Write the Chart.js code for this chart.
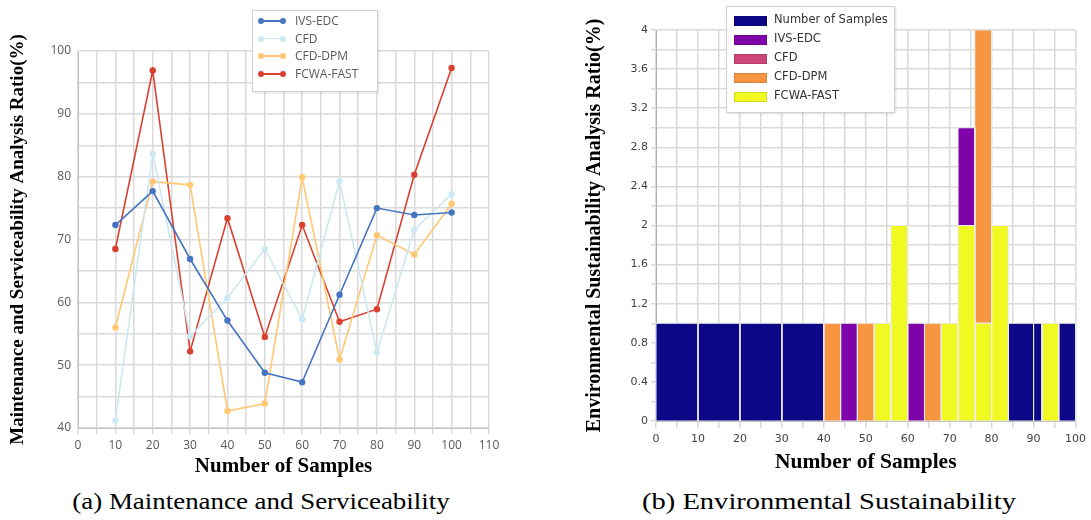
<!DOCTYPE html>
<html>
<head>
<meta charset="utf-8">
<script src="https://cdn.jsdelivr.net/npm/chart.js@4"></script>
<style>
  body { margin: 0; background: #fff; width: 1091px; height: 520px; position: relative; overflow: hidden; }
  .box { position: absolute; top: 0; height: 480px; }
  #leftBox { left: 0; width: 540px; }
  #rightBox { left: 545px; width: 546px; }
  .cap { position: absolute; top: 489px; width: 600px; margin-left: -300px; font: 23px "Liberation Serif", serif; color: #000;
         text-align: center; white-space: nowrap; transform: scaleX(1.17); }
  .legend { position: absolute; background: #fff; border: 1px solid #d0d0d0; box-shadow: 1px 1px 2px rgba(0,0,0,0.12); }
  .row { position: absolute; left: 0; right: 0; height: 18px; }
  .row span.txt { position: absolute; top: 0; line-height: 18px; white-space: nowrap; }
</style>
</head>
<body>
<div class="box" id="leftBox"><canvas id="leftChart"></canvas></div>
<div class="box" id="rightBox"><canvas id="rightChart"></canvas></div>
<div class="legend" id="leftLegend" style="left:252px;top:10px;width:124px;height:80px;"></div>
<div class="legend" id="rightLegend" style="left:726px;top:6px;width:167px;height:105px;"></div>
<div class="cap" style="left:261px;">(a) Maintenance and Serviceability</div>
<div class="cap" style="left:829px;transform:scaleX(1.24);">(b) Environmental Sustainability</div>
<script>
// (a) line chart values
const samples = [10, 20, 30, 40, 50, 60, 70, 80, 90, 100];
const methods = ['IVS-EDC', 'CFD', 'CFD-DPM', 'FCWA-FAST'];
const ivsEdc   = [72.3, 77.7, 66.9, 57.1, 48.8, 47.3, 61.2, 75.0, 73.9, 74.3];
const cfd      = [41.2, 83.7, 54.6, 60.7, 68.5, 57.3, 79.3, 52.0, 71.6, 77.2];
const cfdDpm   = [56.0, 79.2, 78.7, 42.7, 43.9, 79.9, 50.9, 70.7, 67.6, 75.7];
const fcwaFast = [68.5, 96.9, 52.2, 73.4, 54.5, 72.3, 56.9, 58.9, 80.3, 97.3];
const lineColors = ['#4674c1', '#cde8f3', '#ffc875', '#d8412f'];

// (b) histogram bins
const envGroups = ['Number of Samples', 'IVS-EDC', 'CFD', 'CFD-DPM', 'FCWA-FAST'];
const binFrom  = [0, 10, 20, 30, 40, 44, 48, 52, 56, 60, 64, 68, 72, 72, 76, 76, 80, 84, 90, 92, 96];
const binTo    = [10, 20, 30, 40, 44, 48, 52, 56, 60, 64, 68, 72, 76, 76, 80, 80, 84, 90, 92, 96, 100];
const binBase  = [0, 0, 0, 0, 0, 0, 0, 0, 0, 0, 0, 0, 0, 2, 0, 1, 0, 0, 0, 0, 0];
const binTop   = [1, 1, 1, 1, 1, 1, 1, 1, 2, 1, 1, 1, 2, 3, 1, 4, 2, 1, 1, 1, 1];
const binGroup = [0, 0, 0, 0, 3, 1, 3, 4, 4, 1, 3, 4, 4, 1, 4, 3, 4, 0, 0, 4, 0];
const envColors = ['#0d0887', '#7e03a8', '#cc4778', '#f89540', '#f0f921'];

const gridColor = '#dadada';
const series = [ivsEdc, cfd, cfdDpm, fcwaFast];

new Chart(document.getElementById('leftChart'), {
  type: 'line',
  data: {
    datasets: series.map((vals, i) => ({
      label: methods[i],
      data: samples.map((x, j) => ({ x: x, y: vals[j] })),
      borderColor: lineColors[i],
      backgroundColor: lineColors[i],
      borderWidth: 1.6,
      pointRadius: 3.2,
      pointBorderWidth: 0,
      tension: 0,
      fill: false
    }))
  },
  options: {
    responsive: true,
    maintainAspectRatio: false,
    animation: false,
    layout: { padding: { left: 0, top: 51, right: 51, bottom: 0 } },
    plugins: { legend: { display: false }, tooltip: { enabled: false } },
    scales: {
      x: {
        type: 'linear', min: 0, max: 110,
        afterFit: s => { s.height = 52; },
        grid: { color: gridColor, lineWidth: 1.5, tickLength: 6, tickColor: gridColor },
        border: { color: '#c4c4c4' },
        ticks: {
          stepSize: 5, autoSkip: false, maxRotation: 0, padding: 4,
          color: '#595959', font: { family: 'Open Sans', size: 12 },
          callback: v => (v % 10 === 0 ? v : '')
        },
        title: { display: true, text: 'Number of Samples', color: '#000',
          font: { family: 'Liberation Serif', size: 21, weight: 'bold' }, padding: { top: 0, bottom: 1 } }
      },
      y: {
        min: 40, max: 100,
        afterFit: s => { s.width = 78; },
        grid: { color: gridColor, lineWidth: 1.5, drawTicks: false },
        border: { color: '#c4c4c4' },
        ticks: {
          stepSize: 5, autoSkip: false, padding: 7,
          color: '#595959', font: { family: 'Open Sans', size: 12 },
          callback: v => (v % 10 === 0 ? v : '')
        },
        title: { display: true, text: 'Maintenance and Serviceability Analysis Ratio(%)', color: '#000',
          font: { family: 'Liberation Serif', size: 19, weight: 'bold' }, padding: { top: 7, bottom: 0 } }
      }
    }
  }
});

new Chart(document.getElementById('rightChart'), {
  type: 'line',
  data: {
    datasets: binFrom.map((x0, i) => ({
      label: envGroups[binGroup[i]],
      data: [
        { x: x0, y: binBase[i] }, { x: x0, y: binTop[i] },
        { x: binTo[i], y: binTop[i] }, { x: binTo[i], y: binBase[i] },
        { x: x0, y: binBase[i] }
      ],
      borderColor: '#ececec',
      borderWidth: 1,
      backgroundColor: envColors[binGroup[i]],
      pointRadius: 0,
      tension: 0,
      fill: 'shape'
    }))
  },
  options: {
    responsive: true,
    maintainAspectRatio: false,
    animation: false,
    layout: { padding: { left: 0, top: 30, right: 13, bottom: 0 } },
    plugins: { legend: { display: false }, tooltip: { enabled: false } },
    scales: {
      x: {
        type: 'linear', min: 0, max: 100,
        afterFit: s => { s.height = 59; },
        grid: { color: gridColor, lineWidth: 1.5, tickLength: 7, tickColor: gridColor },
        border: { color: '#c4c4c4' },
        ticks: {
          stepSize: 5, autoSkip: false, maxRotation: 0, padding: 5,
          color: '#404040', font: { family: 'DejaVu Sans', size: 11 },
          callback: v => (v % 10 === 0 ? v : '')
        },
        title: { display: true, text: 'Number of Samples', color: '#000',
          font: { family: 'Liberation Serif', size: 21.5, weight: 'bold' }, padding: { top: 0, bottom: 5 } }
      },
      y: {
        min: 0, max: 4,
        afterFit: s => { s.width = 111; },
        grid: { color: gridColor, lineWidth: 1.5, tickLength: 5, tickColor: gridColor },
        border: { color: '#b0b0b0' },
        ticks: {
          stepSize: 0.2, autoSkip: false, padding: 3,
          color: '#404040', font: { family: 'DejaVu Sans', size: 11 },
          callback: v => (Math.round(v * 10) % 4 === 0 ? String(Number(v.toFixed(1))) : '')
        },
        title: { display: true, text: 'Environmental Sustainability Analysis Ratio(%)', color: '#000',
          font: { family: 'Liberation Serif', size: 20, weight: 'bold' }, padding: { top: 38, bottom: 0 } }
      }
    }
  }
});

// legends
const leftLegend = document.getElementById('leftLegend');
methods.forEach((name, i) => {
  const c = lineColors[i];
  const row = document.createElement('div');
  row.className = 'row';
  row.style.top = (1 + i * 17.7) + 'px';
  row.innerHTML =
    '<span style="position:absolute;left:7px;top:8px;width:24px;height:1.6px;background:' + c + '"></span>' +
    '<span style="position:absolute;left:5px;top:6px;width:6px;height:6px;border-radius:50%;background:' + c + '"></span>' +
    '<span style="position:absolute;left:27px;top:6px;width:6px;height:6px;border-radius:50%;background:' + c + '"></span>' +
    '<span class="txt" style="left:42px;font:12px \'Open Sans\';color:#595959">' + name + '</span>';
  leftLegend.appendChild(row);
});

const rightLegend = document.getElementById('rightLegend');
envGroups.forEach((name, i) => {
  const row = document.createElement('div');
  row.className = 'row';
  row.style.top = (5 + i * 19) + 'px';
  row.innerHTML =
    '<span style="position:absolute;left:7px;top:4px;width:31px;height:8px;background:' + envColors[i] + ';border:1px solid rgba(0,0,0,0.12)"></span>' +
    '<span class="txt" style="left:47px;font:11.5px \'DejaVu Sans\';color:#333">' + name + '</span>';
  rightLegend.appendChild(row);
});
</script>
</body>
</html>
